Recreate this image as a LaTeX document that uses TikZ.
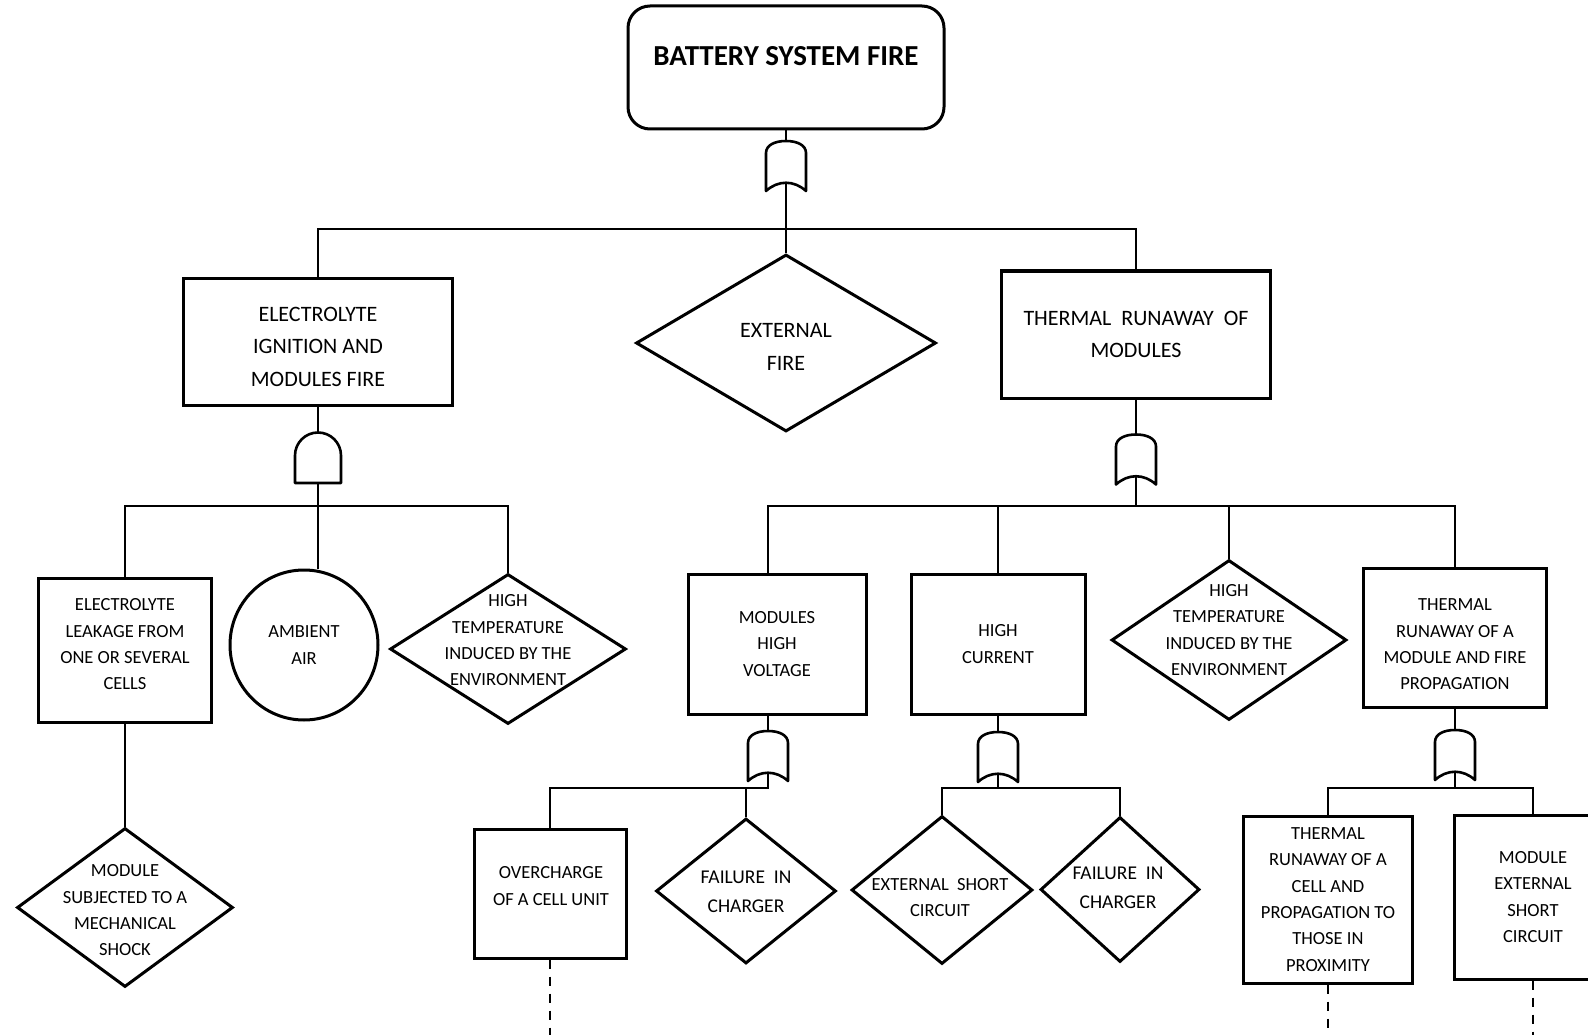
\documentclass[tikz,border=0pt]{standalone}
\usepackage{fontspec}
\setmainfont{Carlito}
\usetikzlibrary{shapes.geometric,calc}

\tikzset{
  evbox/.style={draw, line width=3pt, rectangle, align=center, inner sep=2pt, fill=white},
  evdiam/.style={draw, line width=3pt, diamond, inner sep=0pt},
  evtxt/.style={align=center, inner sep=0pt},
  bigfont/.style={font=\fontsize{22}{32.5}\selectfont},
  smallfont/.style={font=\fontsize{18.5}{26.3}\selectfont},
  failfont/.style={font=\fontsize{19.5}{29}\selectfont},
  conn/.style={line width=1.6pt},
  gateline/.style={line width=2.6pt, fill=white, line join=round},
  gatenode/.style={inner sep=0pt, minimum width=40pt, minimum height=50pt},
  dashline/.style={line width=1.5pt, dash pattern=on 9pt off 8pt},
}

\begin{document}
\begin{tikzpicture}[x=1pt,y=1pt,yscale=-1,xscale=1]
\useasboundingbox (0,0) rectangle (1588,1035);
\clip (0,0) rectangle (1588,1035);

%Shape: Rounded Rectangle
\node[evbox, rounded corners=22pt, minimum width=316pt, minimum height=123pt, font=\fontsize{29}{35}\selectfont\bfseries, text height=14pt, text depth=17pt] (top) at (786,67.5) {BATTERY SYSTEM FIRE};

%Shape: Rectangle
\node[evbox, minimum width=269pt, minimum height=127pt] (elec) at (318,341.5) {};
\node[evtxt, bigfont] (elect) at (318,346.5) {ELECTROLYTE\\IGNITION AND\\MODULES FIRE};
%Shape: Diamond
\node[evdiam, minimum width=300pt, minimum height=177pt] (ext) at (786,343) {};
\node[evtxt, bigfont] (extt) at (786,347) {EXTERNAL\\FIRE};
%Shape: Rectangle
\node[evbox, bigfont, minimum width=269pt, minimum height=127pt] (thm) at (1136,334.5) {THERMAL\ \ RUNAWAY\ \ OF\\MODULES};

%Gates
\node[gatenode] (g0) at (786,166) {};
\node[gatenode, minimum width=46pt, minimum height=51pt] (g1) at (318,457.5) {};
\node[gatenode] (g2) at (1136,459.5) {};
\node[gatenode] (g3) at (768,756) {};
\node[gatenode] (g4) at (998,757) {};
\node[gatenode] (g5) at (1455,755) {};

%Shape: Rectangle
\node[evbox, minimum width=173pt, minimum height=144pt] (leak) at (125,650) {};
\node[evtxt, smallfont] (leakt) at (125,644.5) {ELECTROLYTE\\LEAKAGE FROM\\ONE OR SEVERAL\\CELLS};
%Shape: Circle
\node[draw, line width=3pt, ellipse, minimum width=148pt, minimum height=150pt, smallfont, align=center, inner sep=0pt] (air) at (304,645) {AMBIENT\\AIR};
%Shape: Diamond
\node[evdiam, minimum width=236pt, minimum height=150pt] (hot1) at (508,649) {};
\node[evtxt, smallfont] (hot1t) at (508,640.5) {HIGH\\TEMPERATURE\\INDUCED BY THE\\ENVIRONMENT};
%Shape: Diamond
\node[evdiam, minimum width=216pt, minimum height=159pt] (shock) at (125,907.5) {};
\node[evtxt, smallfont] (shockt) at (125,910.5) {MODULE\\SUBJECTED TO A\\MECHANICAL\\SHOCK};

%Shape: Rectangle
\node[evbox, smallfont, minimum width=178pt, minimum height=140pt] (hv) at (777,644) {MODULES\\HIGH\\VOLTAGE};
%Shape: Rectangle
\node[evbox, smallfont, minimum width=174pt, minimum height=140pt] (hc) at (998,644) {HIGH\\CURRENT};
%Shape: Diamond
\node[evdiam, minimum width=235pt, minimum height=160pt] (hot2) at (1229,640) {};
\node[evtxt, smallfont] (hot2t) at (1229,630) {HIGH\\TEMPERATURE\\INDUCED BY THE\\ENVIRONMENT};
%Shape: Rectangle
\node[evbox, minimum width=183pt, minimum height=139pt] (trm) at (1455,637.5) {};
\node[evtxt, smallfont] (trmt) at (1455,644.5) {THERMAL\\RUNAWAY OF A\\MODULE AND FIRE\\PROPAGATION};

%Shape: Rectangle
\node[evbox, minimum width=152pt, minimum height=129pt] (oc) at (550,893.5) {};
\node[evtxt, smallfont] (oct) at (551,886) {OVERCHARGE\\OF A CELL UNIT};
%Shape: Diamond
\node[evdiam, minimum width=180pt, minimum height=145pt] (fail1) at (746,891) {};
\node[evtxt, failfont] (fail1t) at (746,891.5) {FAILURE\ \ IN\\CHARGER};
%Shape: Diamond
\node[evdiam, minimum width=181pt, minimum height=148pt] (esc) at (942,890) {};
\node[evtxt, smallfont] (esct) at (940,897.5) {EXTERNAL\ \ SHORT\\CIRCUIT};
%Shape: Diamond
\node[evdiam, minimum width=159pt, minimum height=145pt] (fail2) at (1120,889.5) {};
\node[evtxt, failfont] (fail2t) at (1118,887.5) {FAILURE\ \ IN\\CHARGER};
%Shape: Rectangle
\node[evbox, smallfont, minimum width=169pt, minimum height=167pt] (trc) at (1328,899.5) {THERMAL\\RUNAWAY OF A\\CELL AND\\PROPAGATION TO\\THOSE IN\\PROXIMITY};
%Shape: Rectangle
\node[evbox, smallfont, minimum width=158pt, minimum height=164pt] (mesc) at (1533,897) {MODULE\\EXTERNAL\\SHORT\\CIRCUIT};

%Bus points
\coordinate (b0) at (786,229);
\coordinate (b1) at (318,506);
\coordinate (b2) at (1136,506);
\coordinate (b3) at (768,788);
\coordinate (b4) at (998,788);
\coordinate (b5) at (1455,788);

%Straight Lines
\draw[conn] (top.south) -- (g0.center) -- (ext.north);
\draw[conn] (b0) -| (elec.north);
\draw[conn] (b0) -| (thm.north);
\draw[conn] (elec.south) -- (g1.center) -- (g1.center |- air.north);
\draw[conn] (b1) -| (leak.north);
\draw[conn] (b1) -| (hot1.north);
\draw[conn] (leak.south) -- (shock.north);
\draw[conn] (thm.south) -- (g2.center) -- (b2);
\draw[conn] (b2) -| ([xshift=-9pt]hv.north);
\draw[conn] (b2) -| (hc.north);
\draw[conn] (b2) -| (hot2.north);
\draw[conn] (b2) -| (trm.north);
\draw[conn] ([xshift=-9pt]hv.south) -- (g3.center) -- (b3) -| (oc.north);
\draw[conn] (b3) -| (fail1.north);
\draw[conn] (hc.south) -- (g4.center) -- (b4) -| (esc.north);
\draw[conn] (b4) -| (fail2.north);
\draw[conn] (trm.south) -- (g5.center) -- (b5) -| (trc.north);
\draw[conn] (b5) -| (mesc.north);
%Dashed Lines
\draw[dashline] (oc.south) -- ++(0,80);
\draw[dashline] (trc.south) -- ++(0,60);
\draw[dashline] (mesc.south) -- ++(0,60);

%OR gates
\foreach \g in {g0,g2,g3,g4,g5}
  \draw[gateline] ($(\g)+(-20,25)$) -- ++(0,-38) .. controls +(0,-8) and +(-11,0) .. ++(20,-12) .. controls +(11,0) and +(0,-8) .. ++(20,12) -- ++(0,38) .. controls +(-12,-11) and +(12,-11) .. ++(-40,0) -- cycle;
%AND gate
\draw[gateline] ($(g1)+(-23,25.5)$) -- ++(0,-27.5) arc[start angle=180, end angle=360, radius=23] -- ++(0,27.5) -- cycle;

\end{tikzpicture}
\end{document}
